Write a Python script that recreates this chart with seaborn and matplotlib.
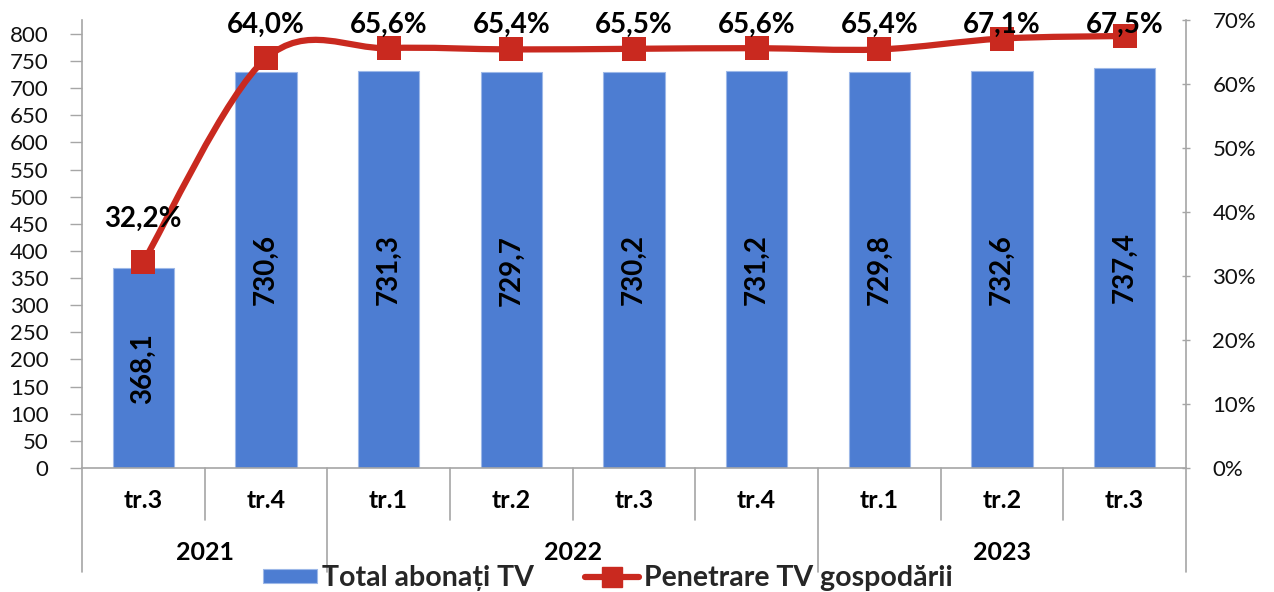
import numpy as np
import pandas as pd
import matplotlib
matplotlib.use("Agg")
import matplotlib.pyplot as plt
from matplotlib.path import Path
from matplotlib.patches import PathPatch, Patch
from matplotlib.lines import Line2D
from matplotlib.ticker import FuncFormatter, MultipleLocator
import seaborn as sns

# Date: abonați TV (mii) și penetrarea TV în gospodării, pe trimestre
ani = ["2021", "2021", "2022", "2022", "2022", "2022", "2023", "2023", "2023"]
trimestre = ["tr.3", "tr.4", "tr.1", "tr.2", "tr.3", "tr.4", "tr.1", "tr.2", "tr.3"]
abonati = [368.1, 730.6, 731.3, 729.7, 730.2, 731.2, 729.8, 732.6, 737.4]
penetrare = [32.2, 64.0, 65.6, 65.4, 65.5, 65.6, 65.4, 67.1, 67.5]
grupe_ani = ["2021", "2022", "2023"]

BLUE = "#4D7DD2"
BLUE_EDGE = "#9DB8E8"
RED = "#C9291F"
GRAY = "#A6A6A6"

sns.set_theme(style="white")
plt.rcParams["font.family"] = ["Lato", "DejaVu Sans"]

W, H = 1274, 592
fig = plt.figure(figsize=(W / 100, H / 100), dpi=100)
ax = fig.add_axes([82 / W, 124 / H, 1104 / W, 448 / H])

df = pd.DataFrame({
    "perioada": [f"{a} {t}" for a, t in zip(ani, trimestre)],
    "abonati": abonati,
    "penetrare": penetrare,
})
ordine = list(df["perioada"])

sns.barplot(data=df, x="perioada", y="abonati", order=ordine, ax=ax,
            color=BLUE, width=0.5, saturation=1, edgecolor=BLUE_EDGE,
            linewidth=0.8, zorder=2)
n = len(df)
ax.set_xlim(-0.5, n - 0.5)
ax.set_ylim(0, 825.8)
ax.yaxis.set_major_locator(MultipleLocator(50))
ax.set_xlabel("")
ax.set_ylabel("")
ax.set_xticks([])
ax.tick_params(axis="y", which="both", left=True, direction="out", length=9,
               width=1, color=GRAY, pad=15, labelsize=16, labelcolor="#111111")
for s in ("top", "right"):
    ax.spines[s].set_visible(False)
for s in ("left", "bottom"):
    ax.spines[s].set_color(GRAY)
    ax.spines[s].set_linewidth(1.2)

# Etichete valori în interiorul barelor
for i, v in enumerate(abonati):
    ax.text(i, v / 2, f"{v:.1f}".replace(".", ","), rotation=90,
            ha="center", va="center", fontsize=20, fontweight="bold",
            color="black", zorder=4)

# Axa secundară: penetrare (%)
ax2 = ax.twinx()
ax2.set_ylim(0, 70)
ax2.set_xlim(-0.5, n - 0.5)
ax2.yaxis.set_major_locator(MultipleLocator(10))
ax2.yaxis.set_major_formatter(FuncFormatter(lambda v, p: f"{v:.0f}%"))
ax2.tick_params(axis="y", which="both", right=True, direction="inout",
                length=6, width=1, color=GRAY, pad=16, labelsize=16,
                labelcolor="#111111")
for s in ("top", "left", "bottom"):
    ax2.spines[s].set_visible(False)
ax2.spines["right"].set_color(GRAY)
ax2.spines["right"].set_linewidth(1.2)
ax2.grid(False)
ax.grid(False)

# Linie netezită (Bezier de tip Catmull-Rom prin punctele seriei)
xs = np.arange(n, dtype=float)
ys = np.array(penetrare, dtype=float)
verts = [(xs[0], ys[0])]
codes = [Path.MOVETO]
for i in range(n - 1):
    p0 = np.array([xs[max(i - 1, 0)], ys[max(i - 1, 0)]])
    p1 = np.array([xs[i], ys[i]])
    p2 = np.array([xs[i + 1], ys[i + 1]])
    p3 = np.array([xs[min(i + 2, n - 1)], ys[min(i + 2, n - 1)]])
    c1 = p1 + (p2 - p0) / 6
    c2 = p2 - (p3 - p1) / 6
    verts += [tuple(c1), tuple(c2), tuple(p2)]
    codes += [Path.CURVE4, Path.CURVE4, Path.CURVE4]
ax2.add_patch(PathPatch(Path(verts, codes), facecolor="none", edgecolor=RED,
                        linewidth=4.5, capstyle="round", joinstyle="round",
                        zorder=3))
sns.scatterplot(x=xs, y=ys, ax=ax2, marker="s", s=300, color=RED,
                linewidth=0, zorder=4, legend=False)
ax2.set_xlim(-0.5, n - 0.5)

for i, v in enumerate(penetrare):
    ax2.text(i, min(v + 6.7, 69.2), f"{v:.1f}%".replace(".", ","),
             ha="center", va="center", fontsize=20, fontweight="bold",
             color="black", zorder=5, clip_on=False)

# Axa categoriilor pe două niveluri (trimestru / an)
tr = ax.get_xaxis_transform()
inner_depth = -52 / 448
group_depth = -104 / 448
limite_ani = [-0.5]
for i in range(1, n):
    if ani[i] != ani[i - 1]:
        limite_ani.append(i - 0.5)
limite_ani.append(n - 0.5)
for i in range(1, n):
    if ani[i] == ani[i - 1]:
        ax.plot([i - 0.5, i - 0.5], [0, inner_depth], transform=tr,
                color=GRAY, lw=1.2, clip_on=False)
for b in limite_ani:
    ax.plot([b, b], [0, group_depth], transform=tr, color=GRAY, lw=1.2,
            clip_on=False)
for i, t in enumerate(trimestre):
    ax.text(i, -32 / 448, t, transform=tr, ha="center", va="center",
            fontsize=18, fontweight="bold", color="black")
for g, (a, b) in zip(grupe_ani, zip(limite_ani[:-1], limite_ani[1:])):
    ax.text((a + b) / 2, -85 / 448, g, transform=tr, ha="center",
            va="center", fontsize=18, fontweight="bold", color="black")

# Legendă
handles = [
    Patch(facecolor=BLUE, edgecolor=BLUE_EDGE, linewidth=0.8),
    Line2D([0], [0], color=RED, lw=4.5, marker="s", markersize=14,
           solid_capstyle="round"),
]
labels = ["Total abonați TV", "Penetrare TV gospodării"]
fig.legend(handles, labels, loc="center", bbox_to_anchor=(608 / W, 1 - 578 / H),
           ncol=2, frameon=False, prop={"size": 20.5, "weight": "bold"},
           handlelength=1.9, handleheight=0.36, handletextpad=0.18,
           columnspacing=1.8, borderaxespad=0, borderpad=0)

fig.savefig("out.png", dpi=100)
